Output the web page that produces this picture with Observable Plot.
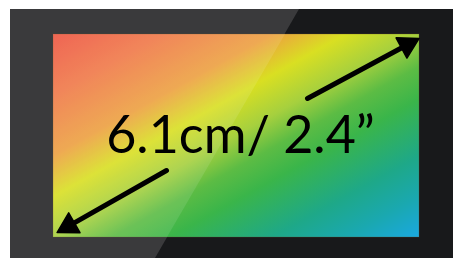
<!DOCTYPE html>
<html>
<head>
<meta charset="utf-8">
<script src="https://cdn.jsdelivr.net/npm/d3@7"></script>
<script src="https://cdn.jsdelivr.net/npm/@observablehq/plot@0.6"></script>
<style>
  html, body { margin: 0; padding: 0; background: #ffffff; }
  #chart svg { display: block; }
</style>
</head>
<body>
<div id="chart"></div>
<script>
// ---- data ----
const frame = [{x1: 10, x2: 453, y1: 9, y2: 258}];
const frameGlare = [{y: 9, x1: 10, x2: 299}, {y: 258, x1: 10, x2: 155}];
const screen = [{x1: 53, x2: 419, y1: 34, y2: 237}];
const screenGlare = [{y: 34, x1: 53, x2: 285}, {y: 237, x1: 53, x2: 167}];
const arrows = [
  {x1: 307, y1: 98, x2: 413, y2: 41},
  {x1: 166, y1: 170, x2: 62, y2: 229}
];
const label = [{x: 240, y: 152, text: "6.1cm/ 2.4”"}];
const gradStops = [
  [0.00, "#ee5440"], [0.15, "#f07848"], [0.30, "#eda040"], [0.40, "#d9df22"],
  [0.50, "#a6d03e"], [0.58, "#5cbc44"], [0.66, "#3ab54a"], [0.80, "#1ea888"],
  [0.90, "#1aa8b0"], [1.00, "#1aa8e0"]
];

// arrow heads derived from arrow data
const heads = arrows.map(a => {
  const dx = a.x2 - a.x1, dy = a.y2 - a.y1, L = Math.hypot(dx, dy);
  const back = 7;
  return {
    x: a.x2 - dx / L * back, y: a.y2 - dy / L * back,
    rotate: Math.atan2(dy, dx) * 180 / Math.PI + 90
  };
});
const shafts = arrows.map(a => {
  const dx = a.x2 - a.x1, dy = a.y2 - a.y1, L = Math.hypot(dx, dy);
  return {x1: a.x1, y1: a.y1, x2: a.x2 - dx / L * 8, y2: a.y2 - dy / L * 8};
});

const defs = () => {
  const ns = "http://www.w3.org/2000/svg";
  const d = document.createElementNS(ns, "defs");
  const g = document.createElementNS(ns, "linearGradient");
  g.setAttribute("id", "screenGrad");
  g.setAttribute("x1", "0"); g.setAttribute("y1", "0");
  g.setAttribute("x2", "1"); g.setAttribute("y2", "1");
  for (const [o, c] of gradStops) {
    const s = document.createElementNS(ns, "stop");
    s.setAttribute("offset", o);
    s.setAttribute("stop-color", c);
    g.appendChild(s);
  }
  d.appendChild(g);
  return d;
};

const chart = Plot.plot({
  width: 453,
  height: 258,
  margin: 0,
  x: {domain: [0, 453], range: [0, 453], axis: null},
  y: {domain: [0, 258], range: [0, 258], axis: null},
  style: {background: "#ffffff"},
  marks: [
    defs,
    Plot.rect(frame, {x1: "x1", x2: "x2", y1: "y1", y2: "y2", fill: "#18191b"}),
    Plot.areaX(frameGlare, {y: "y", x1: "x1", x2: "x2", fill: "#3a3a3c", curve: "linear"}),
    Plot.rect(screen, {x1: "x1", x2: "x2", y1: "y1", y2: "y2", fill: "url(#screenGrad)", stroke: "#6a5a30", strokeOpacity: 0.35, strokeWidth: 0.8}),
    Plot.areaX(screenGlare, {y: "y", x1: "x1", x2: "x2", fill: "#ffffff", fillOpacity: 0.1, curve: "linear"}),
    Plot.link(shafts, {x1: "x1", y1: "y1", x2: "x2", y2: "y2", stroke: "#000000", strokeWidth: 5, strokeLinecap: "round"}),
    Plot.dot(heads, {x: "x", y: "y", symbol: "triangle", r: 8.5, rotate: "rotate", fill: "#000000", stroke: "#000000", strokeWidth: 1.5, strokeLinejoin: "round"}),
    Plot.text(label, {x: "x", y: "y", text: "text", fontSize: 52, fontFamily: "Lato", fill: "#000000", lineAnchor: "bottom", textAnchor: "middle", letterSpacing: -2.5})
  ]
});
document.getElementById("chart").appendChild(chart);
</script>
</body>
</html>
